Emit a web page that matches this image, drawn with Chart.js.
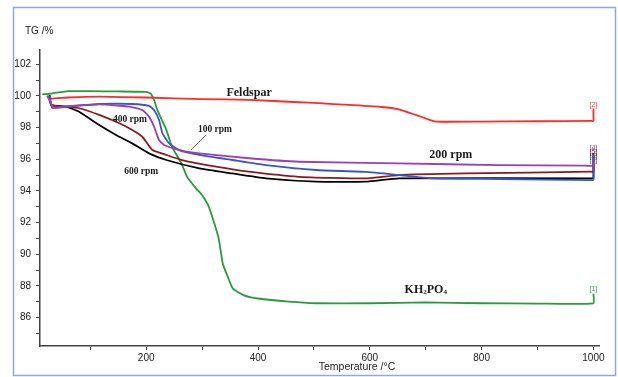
<!DOCTYPE html>
<html>
<head>
<meta charset="utf-8">
<script src="https://cdn.jsdelivr.net/npm/chart.js@4"></script>
<style>
  html, body { margin: 0; padding: 0; background: #fff; }
  #wrap { width: 618px; height: 377px; }
</style>
</head>
<body>
<div id="wrap"><canvas id="tgChart" width="618" height="377"></canvas></div>
<script>
// ticks
const xTicks = [100, 200, 300, 400, 500, 600, 700, 800, 900, 1000];
const xLabels = [200, 400, 600, 800, 1000];
const yTicks = [85, 86, 87, 88, 89, 90, 91, 92, 93, 94, 95, 96, 97, 98, 99, 100, 101, 102];
const yLabels = [86, 88, 90, 92, 94, 96, 98, 100, 102];

// KH2PO4 [1]
const kh2po4T = [14, 30, 60, 100, 150, 200, 208, 214, 220, 236, 246, 263, 273, 289, 300, 312, 329, 337, 346, 355, 375, 400, 455, 503, 600, 700, 800, 900, 1000, 1000];
const kh2po4W = [100.1, 100.15, 100.3, 100.3, 100.28, 100.25, 100.15, 99.75, 99.1, 97.85, 96.8, 95.74, 94.9, 94.16, 93.73, 93.0, 91.1, 89.4, 88.56, 87.83, 87.4, 87.2, 87.0, 86.9, 86.9, 86.95, 86.9, 86.88, 86.9, 87.5];

// Feldspar [2]
const feldT = [23, 27, 60, 116, 200, 300, 384, 473, 509, 562, 621, 652, 682, 711, 718, 800, 900, 996, 1000, 1000];
const feldW = [100.0, 99.83, 99.9, 99.95, 99.9, 99.8, 99.75, 99.6, 99.54, 99.43, 99.3, 99.15, 98.8, 98.44, 98.37, 98.38, 98.4, 98.42, 98.42, 99.2];

// 200 rpm
const rpm200T = [23, 30, 32, 60, 116, 170, 193, 205, 214, 223, 232, 259, 295, 384, 473, 652, 830, 986, 1000, 1000];
const rpm200W = [100.0, 99.5, 99.26, 99.35, 99.47, 99.32, 99.11, 98.69, 98.06, 97.2, 96.9, 96.58, 96.37, 96.06, 95.84, 95.74, 95.63, 95.59, 95.6, 96.4];

// 100 rpm
const rpm100T = [27, 30, 32, 57, 116, 175, 205, 214, 223, 229, 241, 259, 295, 354, 414, 504, 593, 652, 711, 830, 996, 1000, 1000];
const rpm100W = [100.0, 99.5, 99.24, 99.32, 99.49, 99.49, 99.37, 99.11, 98.48, 97.64, 97.0, 96.58, 96.27, 95.95, 95.63, 95.32, 95.2, 95.0, 94.79, 94.75, 94.68, 94.7, 96.0];

// 400 rpm
const rpm400T = [27, 30, 57, 80, 116, 152, 175, 193, 211, 236, 264, 325, 384, 473, 593, 652, 771, 996, 1000, 1000];
const rpm400W = [100.0, 99.43, 99.32, 99.22, 98.8, 98.27, 97.85, 97.42, 96.58, 96.27, 95.95, 95.53, 95.21, 94.89, 94.79, 95.0, 95.1, 95.21, 95.2, 96.2];

// 600 rpm
const rpm600T = [27, 30, 57, 80, 116, 146, 175, 205, 236, 295, 354, 414, 504, 593, 652, 996, 1000, 1000];
const rpm600W = [100.06, 99.43, 99.32, 99.0, 98.16, 97.53, 97.0, 96.37, 95.95, 95.42, 95.1, 94.79, 94.58, 94.58, 94.79, 94.79, 94.8, 96.1];

// leader line for "100 rpm"
const leaderT = [307, 280];
const leaderW = [97.53, 96.58];

function puntos(ts, ws) {
    return ts.map((t, i) => ({ x: t, y: ws[i] }));
}

function serie(ts, ws, color, ancho) {
    return {
        data: puntos(ts, ws),
        borderColor: color,
        borderWidth: ancho || 1.8,
        pointRadius: 0,
        tension: 0.15,
        fill: false
    };
}

// marco azul, textos y etiquetas
const anotaciones = {
    id: 'anotaciones',
    beforeDraw(chart) {
        const ctx = chart.ctx;
        ctx.save();
        ctx.fillStyle = '#fff';
        ctx.fillRect(0, 0, chart.width, chart.height);
        ctx.strokeStyle = '#8eaadb';
        ctx.lineWidth = 1.5;
        ctx.strokeRect(13.5, 7.5, 602, 368);
        ctx.restore();
    },
    afterDraw(chart) {
        const ctx = chart.ctx;
        const xs = chart.scales.x, ys = chart.scales.y;
        const px = v => xs.getPixelForValue(v);
        const py = v => ys.getPixelForValue(v);
        ctx.save();
        ctx.textBaseline = 'middle';
        ctx.textAlign = 'left';
        ctx.fillStyle = '#222';
        ctx.font = '10px "Liberation Sans", Arial, sans-serif';
        ctx.fillText('TG /%', 25, 31);
        ctx.textAlign = 'center';
        ctx.font = '10.5px "Liberation Sans", Arial, sans-serif';
        ctx.fillText('Temperature /°C', 357, 367);

        const serif = '"Liberation Serif", "Times New Roman", serif';
        ctx.fillStyle = '#1a1a1a';
        ctx.font = 'bold 12px ' + serif;
        ctx.fillText('Feldspar', px(384), py(100.19));
        ctx.fillText('200 rpm', px(745), py(96.27));
        ctx.font = 'bold 9.5px ' + serif;
        ctx.fillText('400 rpm', px(171), py(98.48));
        ctx.fillText('100 rpm', px(323), py(97.9));
        ctx.fillText('600 rpm', px(191), py(95.19));

        // KH2PO4 con subíndices
        ctx.textAlign = 'left';
        const partes = [['KH', 12], ['2', 7], ['PO', 12], ['4', 7]];
        let total = 0;
        partes.forEach(p => { ctx.font = 'bold ' + p[1] + 'px ' + serif; total += ctx.measureText(p[0]).width; });
        let x0 = px(700) - total / 2;
        const yk = py(87.72);
        partes.forEach(p => {
            ctx.font = 'bold ' + p[1] + 'px ' + serif;
            ctx.fillText(p[0], x0, p[1] < 10 ? yk + 2 : yk);
            x0 += ctx.measureText(p[0]).width;
        });

        // etiquetas de curva
        ctx.textAlign = 'center';
        ctx.font = '7px "Liberation Sans", Arial, sans-serif';
        const xe = px(1000);
        ctx.fillStyle = '#2e9e44';
        ctx.fillText('[1]', xe, py(87.8));
        ctx.fillStyle = '#ff3b3b';
        ctx.fillText('[2]', xe, py(99.45));
        ctx.fillStyle = '#9b3fb5';
        ctx.fillText('[4]', xe, py(96.7));
        ctx.fillStyle = '#8b1a1a';
        ctx.fillText('[5]', xe, py(96.45));
        ctx.fillStyle = '#333';
        ctx.fillText('[6]', xe, py(96.2));
        ctx.fillStyle = '#3a55c8';
        ctx.fillText('[3]', xe, py(95.95));
        ctx.restore();
    }
};

const ctx = document.getElementById('tgChart').getContext('2d');
const tgChart = new Chart(ctx, {
    type: 'line',
    data: {
        datasets: [
            serie(rpm200T, rpm200W, '#9b3fb5'),
            serie(rpm100T, rpm100W, '#3a55c8'),
            serie(rpm400T, rpm400W, '#8b1a1a'),
            serie(rpm600T, rpm600W, '#000000'),
            serie(feldT, feldW, '#ff2a2a'),
            serie(kh2po4T, kh2po4W, '#2a9a3e'),
            serie(leaderT, leaderW, '#666666', 1)
        ]
    },
    options: {
        responsive: false,
        animation: false,
        layout: { padding: { left: 0, right: 19, top: 50, bottom: 0 } },
        plugins: {
            legend: { display: false },
            tooltip: { enabled: false }
        },
        scales: {
            x: {
                type: 'linear',
                min: 10,
                max: 1010,
                afterBuildTicks: s => { s.ticks = xTicks.map(v => ({ value: v })); },
                afterFit: s => { s.height = 31; },
                border: { color: '#444', width: 1.5 },
                grid: { drawOnChartArea: false, drawTicks: true, tickLength: 4, color: '#444' },
                ticks: {
                    autoSkip: false,
                    maxRotation: 0,
                    padding: 2,
                    color: '#222',
                    font: { family: '"Liberation Sans", Arial, sans-serif', size: 10 },
                    callback: v => xLabels.includes(v) ? String(v) : ''
                }
            },
            y: {
                type: 'linear',
                min: 84.2,
                max: 102.9,
                afterBuildTicks: s => { s.ticks = yTicks.map(v => ({ value: v })); },
                afterFit: s => { s.width = 40; },
                border: { color: '#444', width: 1.5 },
                grid: { drawOnChartArea: false, drawTicks: true, tickLength: 4, color: '#444' },
                ticks: {
                    autoSkip: false,
                    padding: 5,
                    color: '#222',
                    font: { family: '"Liberation Sans", Arial, sans-serif', size: 10 },
                    callback: v => yLabels.includes(v) ? String(v) : ''
                }
            }
        }
    },
    plugins: [anotaciones]
});
</script>
</body>
</html>
